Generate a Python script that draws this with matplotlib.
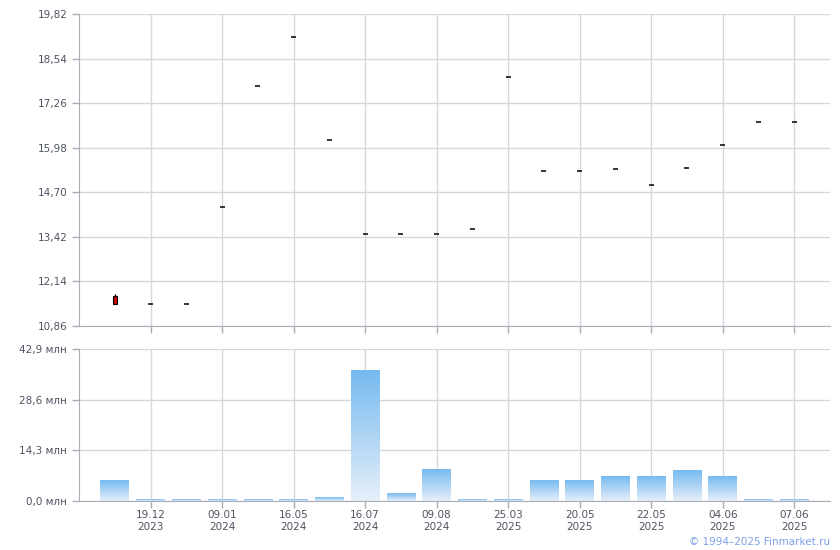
import matplotlib

matplotlib.use("Agg")
import matplotlib.pyplot as plt
import numpy as np
from matplotlib.colors import LinearSegmentedColormap

# %% data
price_open = [11.72, 11.49, 11.49, 14.27, 17.74, 19.15, 16.19, 13.49, 13.49, 13.49,
              13.64, 18.00, 15.30, 15.30, 15.36, 14.90, 15.39, 16.07, 16.71, 16.71]
price_high = [11.78, 11.49, 11.49, 14.27, 17.74, 19.15, 16.19, 13.49, 13.49, 13.49,
              13.64, 18.00, 15.30, 15.30, 15.36, 14.90, 15.39, 16.07, 16.71, 16.71]
price_low = [11.49, 11.49, 11.49, 14.27, 17.74, 19.15, 16.19, 13.49, 13.49, 13.49,
             13.64, 18.00, 15.30, 15.30, 15.36, 14.90, 15.39, 16.07, 16.71, 16.71]
price_close = [11.49, 11.49, 11.49, 14.27, 17.74, 19.15, 16.19, 13.49, 13.49, 13.49,
               13.64, 18.00, 15.30, 15.30, 15.36, 14.90, 15.39, 16.07, 16.71, 16.71]
volume_mln = [5.9, 0.56, 0.56, 0.3, 0.3, 0.3, 0.85, 36.7, 2.0, 9.0,
              0.3, 0.3, 5.9, 5.9, 7.05, 6.8, 8.5, 7.05, 0.3, 0.3]

tick_idx = [1, 3, 5, 7, 9, 11, 13, 15, 17, 19]
tick_labels = ["19.12\n2023", "09.01\n2024", "16.05\n2024", "16.07\n2024", "09.08\n2024",
               "25.03\n2025", "20.05\n2025", "22.05\n2025", "04.06\n2025", "07.06\n2025"]
price_ticks = [10.86, 12.14, 13.42, 14.70, 15.98, 17.26, 18.54, 19.82]
vol_ticks = [0.0, 14.3, 28.6, 42.9]

# %% style
grid_c = "#d3d8dd"
spine_c = "#a9adb8"
text_c = "#4f5462"
plt.rcParams["font.family"] = ["DejaVu Sans"]

fig = plt.figure(figsize=(8.4, 5.5), dpi=100)
ax_p = fig.add_axes([79 / 840, 1 - 326 / 550, 751 / 840, 312 / 550])
ax_v = fig.add_axes([79 / 840, 1 - 501 / 550, 751 / 840, 152 / 550])

x = np.arange(len(price_open))

for ax in (ax_p, ax_v):
    ax.set_xlim(-1, 20)
    ax.set_xticks(tick_idx)
    ax.grid(True, color=grid_c, lw=1)
    ax.set_axisbelow(True)
    for s in ("top", "right"):
        ax.spines[s].set_visible(False)
    for s in ("left", "bottom"):
        ax.spines[s].set_color(spine_c)
    ax.tick_params(colors=spine_c, labelcolor=text_c, labelsize=7.5, length=5, width=1)
    ax.tick_params(axis="x", pad=1.5)

# %% price panel
ax_p.set_ylim(price_ticks[0], price_ticks[-1])
ax_p.set_yticks(price_ticks)
ax_p.set_yticklabels([f"{v:.2f}".replace(".", ",") for v in price_ticks])
ax_p.set_xticklabels([])

for i in x:
    o, h, l, c = price_open[i], price_high[i], price_low[i], price_close[i]
    if o == c:
        ax_p.hlines(o, i - 0.07, i + 0.07, color="black", lw=1.1, zorder=3)
    else:
        ax_p.vlines(i, l, h, color="black", lw=1, zorder=3)
        color = "#cc0000" if c < o else "#00aa00"
        ax_p.bar(i, abs(o - c), bottom=min(o, c), width=0.11, color=color,
                 edgecolor="black", lw=0.8, zorder=4)

# %% volume panel
ax_v.set_ylim(vol_ticks[0], vol_ticks[-1])
ax_v.set_yticks(vol_ticks)
ax_v.set_yticklabels([f"{v:.1f} млн".replace(".", ",") for v in vol_ticks])
ax_v.set_xticklabels(tick_labels, linespacing=1.25)

cmap = LinearSegmentedColormap.from_list("vol", ["#e6eff9", "#76baf0"])
grad = np.linspace(0, 1, 256).reshape(-1, 1)
w = 0.8
for i, v in zip(x, volume_mln):
    ax_v.imshow(grad, extent=[i - w / 2, i + w / 2, 0, v], origin="lower",
                aspect="auto", cmap=cmap, zorder=2, interpolation="bilinear")
ax_v.set_xlim(-1, 20)
ax_v.set_ylim(vol_ticks[0], vol_ticks[-1])

fig.text(830 / 840, 1 - 542 / 550, "© 1994–2025 Finmarket.ru", ha="right", va="center",
         fontsize=7.5, color="#7b9fe6")

fig.savefig("out.png", dpi=100)
